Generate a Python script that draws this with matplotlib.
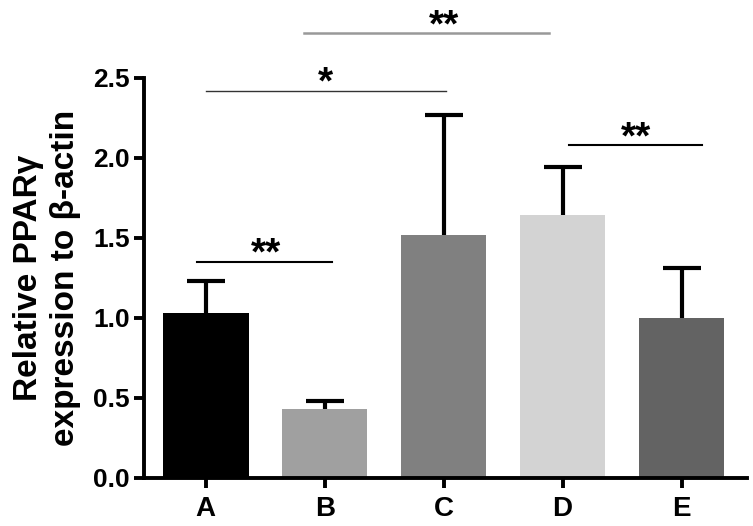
import matplotlib.pyplot as plt

groups = ['A', 'B', 'C', 'D', 'E']
means = [1.03, 0.43, 1.52, 1.64, 1.00]
errs = [0.20, 0.05, 0.75, 0.30, 0.31]
colors = ['#000000', '#a0a0a0', '#808080', '#d3d3d3', '#636363']

# significance brackets: x start, x end, height, label, star x
sig_x0 = [-0.07, 0.0, 0.83, 3.05]
sig_x1 = [1.06, 2.02, 2.89, 4.17]
sig_y = [1.35, 2.42, 2.78, 2.08]
sig_text = ['**', '*', '**', '**']
sig_star_x = [0.51, 1.01, 2.0, 3.62]
sig_color = ['#000000', '#333333', '#999999', '#000000']
sig_lw = [1.5, 1.0, 1.8, 1.5]

plt.rcParams['font.family'] = ['Liberation Sans', 'DejaVu Sans']

fig = plt.figure(figsize=(7.53, 5.26), dpi=100)
ax = fig.add_axes([0.191, 0.092, 0.801, 0.760])

x = list(range(len(groups)))
ax.bar(x, means, width=0.72, color=colors, zorder=2)
eb = ax.errorbar(x, means, yerr=[[0] * len(errs), errs], fmt='none', ecolor='black',
                 elinewidth=3, capsize=14, capthick=3, zorder=3)
eb[1][0].set_visible(False)

for x0, x1, y, t, sx, c, lw in zip(sig_x0, sig_x1, sig_y, sig_text, sig_star_x, sig_color, sig_lw):
    ax.plot([x0, x1], [y, y], color=c, lw=lw, clip_on=False)
    ax.text(sx, y - 0.02, t, ha='center', va='baseline', fontsize=28, fontweight='bold',
            clip_on=False)

ax.set_xlim(-0.52, 4.55)
ax.set_ylim(0, 2.5)
ax.set_yticks([0, 0.5, 1.0, 1.5, 2.0, 2.5])
ax.set_yticklabels(['0.0', '0.5', '1.0', '1.5', '2.0', '2.5'])
ax.set_xticks(x)
ax.set_xticklabels(groups)
for lab in ax.get_yticklabels():
    lab.set_fontweight('bold')
    lab.set_fontsize(19)
for lab in ax.get_xticklabels():
    lab.set_fontweight('bold')
    lab.set_fontsize(20)
ax.tick_params(axis='both', width=2.8, length=7, direction='out')
ax.tick_params(axis='y', pad=3)
ax.tick_params(axis='x', pad=6)

for s in ['top', 'right']:
    ax.spines[s].set_visible(False)
for s in ['left', 'bottom']:
    ax.spines[s].set_linewidth(2.8)

ax.set_ylabel('Relative PPAR\u03b3\nexpression to \u03b2-actin', fontsize=24, fontweight='bold',
              labelpad=9, linespacing=1.25)

fig.savefig('out.png', dpi=100)
